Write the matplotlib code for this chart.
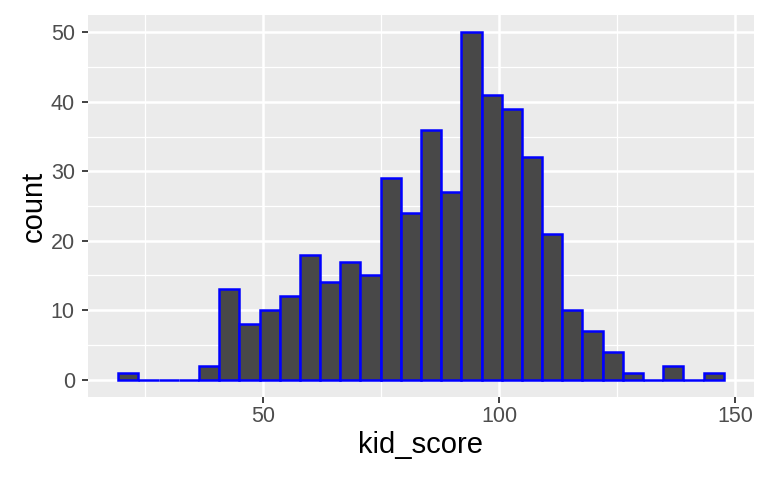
import matplotlib
matplotlib.use("Agg")
import matplotlib.pyplot as plt
import numpy as np

plt.rcParams['font.family'] = ['Liberation Sans', 'DejaVu Sans']

# kid_score histogram, 30 bins (ggplot default), counts
score_min = 20
score_max = 144
n_bins = 30
counts = [1, 0, 0, 0, 2, 13, 8, 10, 12, 18, 14, 17, 15, 29, 24,
          36, 27, 50, 41, 39, 32, 21, 10, 7, 4, 1, 0, 2, 0, 1]
x_ticks = [50, 100, 150]
y_ticks = [0, 10, 20, 30, 40, 50]

# ggplot style bin placement: width = range/(bins-1), boundary = width/2
width = (score_max - score_min) / (n_bins - 1)
boundary = width / 2
origin = np.floor((score_min - boundary) / width) * width + boundary
left_edges = origin + width * np.arange(n_bins)

fig = plt.figure(figsize=(7.68, 4.8), dpi=100)
ax = fig.add_axes([88 / 768, 83 / 480, (754 - 88) / 768, (397 - 15) / 480])
ax.set_facecolor("#EBEBEB")

ax.bar(left_edges, counts, width=width, align="edge", color="#484848",
       edgecolor="#0000FF", linewidth=1.8, zorder=3)

x_lo, x_hi = left_edges[0], left_edges[-1] + width
pad = (x_hi - x_lo) * 0.05
ax.set_xlim(x_lo - pad, x_hi + pad)
ax.set_ylim(-2.5, 52.5)

ax.set_xticks(x_ticks)
ax.set_yticks(y_ticks)
ax.set_xticks([25, 75, 125], minor=True)
ax.set_yticks([5, 15, 25, 35, 45], minor=True)
ax.grid(which="major", color="white", linewidth=1.8, zorder=1)
ax.grid(which="minor", color="white", linewidth=0.9, zorder=1)
ax.set_axisbelow(True)

for s in ax.spines.values():
    s.set_visible(False)

ax.tick_params(which="major", length=4.5, width=1.3, color="#333333",
               labelcolor="#4D4D4D", labelsize=15.5)
ax.tick_params(axis="x", which="major", pad=2)
ax.tick_params(axis="y", which="major", pad=5)
ax.tick_params(which="minor", length=0)

ax.set_xlabel("kid_score", fontsize=21, color="black", labelpad=3)
ax.set_ylabel("count", fontsize=21, color="black", labelpad=2)

fig.savefig("out.png", dpi=100)
